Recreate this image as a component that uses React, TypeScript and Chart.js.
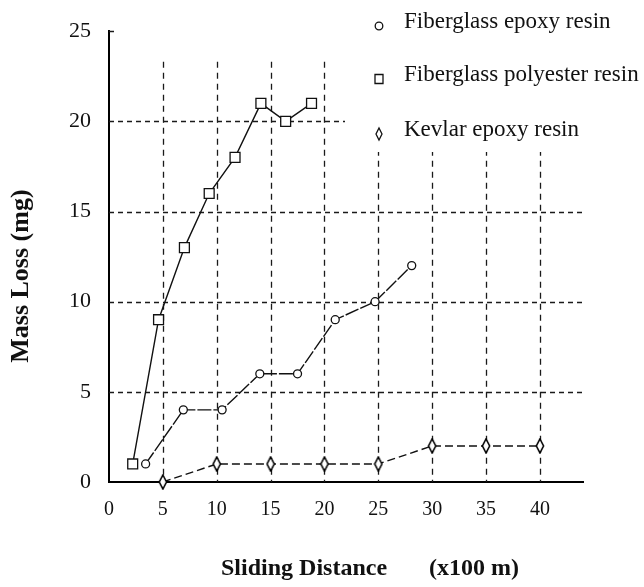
import React, { useEffect, useRef } from 'react';
import { Chart, registerables } from 'chart.js';

Chart.register(...registerables);

// ---- data ----
const seriesLabels = ['Fiberglass epoxy resin', 'Fiberglass polyester resin', 'Kevlar epoxy resin'];

const epoxyDistance = [3.4, 6.9, 10.5, 14.0, 17.5, 21.0, 24.7, 28.1];
const epoxyMass = [1, 4, 4, 6, 6, 9, 10, 12];

const polyesterDistance = [2.2, 4.6, 7.0, 9.3, 11.7, 14.1, 16.4, 18.8];
const polyesterMass = [1, 9, 13, 16, 18, 21, 20, 21];

const kevlarDistance = [5, 10, 15, 20, 25, 30, 35, 40];
const kevlarMass = [0, 1, 1, 1, 1, 2, 2, 2];

const gridMass = [5, 10, 15, 20];
const gridDistance = [5, 10, 15, 20, 25, 30, 35, 40];
const gridTopMass = 23.3;

const xTitle = '        Sliding Distance       (x100 m)';
const yTitle = 'Mass Loss (mg)      ';

const FONT = "'Liberation Serif', 'Times New Roman', serif";
const INK = '#111';

function makeDiamond(): HTMLCanvasElement {
  const c = document.createElement('canvas');
  c.width = 10;
  c.height = 16;
  const g = c.getContext('2d')!;
  g.beginPath();
  g.moveTo(5, 1);
  g.lineTo(8.6, 8);
  g.lineTo(5, 15);
  g.lineTo(1.4, 8);
  g.closePath();
  g.fillStyle = '#fff';
  g.fill();
  g.strokeStyle = '#000';
  g.lineWidth = 1.6;
  g.stroke();
  return c;
}

function drawMarker(ctx: CanvasRenderingContext2D, style: string, x: number, y: number) {
  ctx.save();
  ctx.setLineDash([]);
  ctx.strokeStyle = INK;
  ctx.fillStyle = '#fff';
  ctx.lineWidth = 1.3;
  ctx.beginPath();
  if (style === 'circle') {
    ctx.arc(x, y, 3.8, 0, Math.PI * 2);
  } else if (style === 'rect') {
    ctx.rect(x - 4, y - 4.5, 8, 9);
  } else {
    ctx.moveTo(x, y - 6);
    ctx.lineTo(x + 3, y);
    ctx.lineTo(x, y + 6);
    ctx.lineTo(x - 3, y);
    ctx.closePath();
  }
  ctx.fill();
  ctx.stroke();
  ctx.restore();
}

const legendStyles = ['circle', 'rect', 'diamond'];

const paperPlugin = {
  id: 'paperGridLegend',
  beforeDatasetsDraw(chart: any) {
    const { ctx, chartArea, scales } = chart;
    const x = scales.x;
    const y = scales.y;
    ctx.save();
    ctx.strokeStyle = '#1a1a1a';
    ctx.lineWidth = 1.3;
    // horizontal dashed grid
    ctx.setLineDash([5, 4]);
    for (const v of gridMass) {
      const py = Math.round(y.getPixelForValue(v)) + 0.5;
      ctx.beginPath();
      ctx.moveTo(chartArea.left, py);
      ctx.lineTo(chartArea.right, py);
      ctx.stroke();
    }
    // vertical dashed grid
    ctx.setLineDash([6, 5]);
    const top = y.getPixelForValue(gridTopMass);
    for (const v of gridDistance) {
      const px = Math.round(x.getPixelForValue(v)) + 0.5;
      ctx.beginPath();
      ctx.moveTo(px, top);
      ctx.lineTo(px, chartArea.bottom);
      ctx.stroke();
    }
    // small inner tick at top of y axis
    ctx.setLineDash([]);
    ctx.lineWidth = 1.5;
    const pt = Math.round(y.getPixelForValue(25)) + 0.5;
    ctx.beginPath();
    ctx.moveTo(chartArea.left, pt);
    ctx.lineTo(chartArea.left + 5, pt);
    ctx.stroke();

    // legend (opaque box in the top right)
    const boxLeft = 345;
    const boxBottom = 152;
    ctx.fillStyle = '#fff';
    ctx.fillRect(boxLeft, 0, chart.width - boxLeft, boxBottom);
    const baselines = [28, 81, 136];
    ctx.font = `23px ${FONT}`;
    ctx.textBaseline = 'alphabetic';
    ctx.textAlign = 'left';
    chart.data.datasets.forEach((ds: any, i: number) => {
      drawMarker(ctx, legendStyles[i], 379, baselines[i] - 2);
      ctx.fillStyle = INK;
      ctx.fillText(ds.label, 404, baselines[i]);
    });
    ctx.restore();
  },
};

export default function App() {
  const ref = useRef<HTMLCanvasElement>(null);

  useEffect(() => {
    if (!ref.current) return;
    const diamond = makeDiamond();
    const toPoints = (xs: number[], ys: number[]) => xs.map((v, i) => ({ x: v, y: ys[i] }));
    const common = {
      borderColor: INK,
      borderWidth: 1.4,
      pointBorderColor: INK,
      pointBackgroundColor: '#fff',
      pointBorderWidth: 1.3,
      tension: 0,
      fill: false,
    };
    const chart = new Chart(ref.current, {
      type: 'line',
      data: {
        datasets: [
          {
            ...common,
            label: seriesLabels[0],
            data: toPoints(epoxyDistance, epoxyMass),
            pointStyle: 'circle',
            pointRadius: 4,
            borderDash: [14, 2],
          },
          {
            ...common,
            label: seriesLabels[1],
            data: toPoints(polyesterDistance, polyesterMass),
            pointStyle: 'rect',
            pointRadius: 7,
          },
          {
            ...common,
            label: seriesLabels[2],
            data: toPoints(kevlarDistance, kevlarMass),
            pointStyle: diamond as any,
            pointRadius: 6,
            borderDash: [8, 4],
          },
        ],
      },
      options: {
        animation: false,
        responsive: true,
        maintainAspectRatio: false,
        clip: false as any,
        layout: { padding: { left: 0, right: 61, top: 21, bottom: 0 } },
        plugins: {
          legend: { display: false },
          tooltip: { enabled: false },
        },
        scales: {
          x: {
            type: 'linear',
            min: 0,
            max: 44,
            grid: { display: false, drawTicks: false },
            border: { display: true, color: '#000', width: 2 },
            ticks: {
              stepSize: 5,
              includeBounds: false,
              padding: 16,
              color: INK,
              font: { family: FONT, size: 20 },
              maxRotation: 0,
            },
            title: {
              display: true,
              text: xTitle,
              color: INK,
              font: { family: FONT, size: 24, weight: 'bold' },
              padding: { top: 0, bottom: 4 },
            },
            afterFit: (s: any) => {
              s.height = 105;
            },
          },
          y: {
            type: 'linear',
            min: 0,
            max: 25,
            grid: { display: false, drawTicks: false },
            border: { display: true, color: '#000', width: 2 },
            ticks: {
              stepSize: 5,
              padding: 18,
              color: INK,
              font: { family: FONT, size: 22 },
            },
            title: {
              display: true,
              text: yTitle,
              color: INK,
              font: { family: FONT, size: 26, weight: 'bold' },
              padding: { top: 6, bottom: 0 },
            },
            afterFit: (s: any) => {
              s.width = 109;
            },
          },
        },
      } as any,
      plugins: [paperPlugin],
    });
    return () => chart.destroy();
  }, []);

  return (
    <div style={{ position: 'fixed', left: 0, top: 0, width: 644, height: 587, background: '#fff' }}>
      <canvas ref={ref} />
    </div>
  );
}
